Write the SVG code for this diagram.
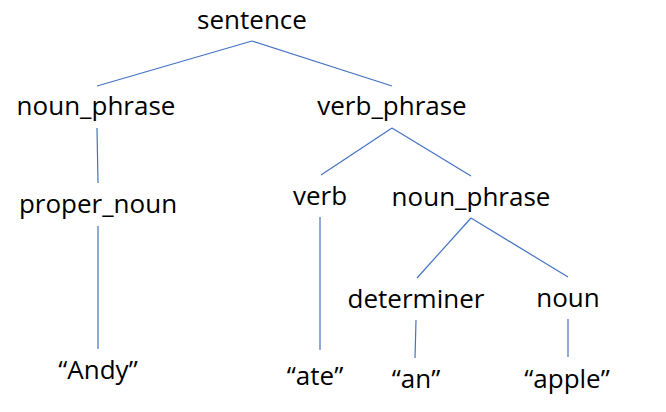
<svg xmlns="http://www.w3.org/2000/svg" width="666" height="412" viewBox="0 0 666 412">
<style>
text{font-family:"Open Sans","Noto Sans","DejaVu Sans",sans-serif;font-size:26px;fill:#000;text-anchor:middle}
.e line{stroke:#4472C4;stroke-width:1.2}
</style>
<rect width="666" height="412" fill="#fff"/>
<g class="e" id="edges">
<line x1="252" y1="41" x2="97" y2="86"/>
<line x1="252" y1="41" x2="392" y2="86"/>
<line x1="97" y1="128" x2="98" y2="183"/>
<line x1="98" y1="226" x2="98" y2="349"/>
<line x1="392" y1="128" x2="321" y2="175"/>
<line x1="392" y1="128" x2="471" y2="176"/>
<line x1="320" y1="217" x2="320" y2="350"/>
<line x1="471" y1="218" x2="417" y2="278"/>
<line x1="471" y1="218" x2="568" y2="277"/>
<line x1="416" y1="320" x2="415" y2="358"/>
<line x1="568" y1="319" x2="568" y2="357"/>
</g>
<g id="n-sentence"><text x="252" y="29">sentence</text></g>
<g id="n-np1"><text x="96" y="115">noun_phrase</text></g>
<g id="n-vp"><text x="392" y="115">verb_phrase</text></g>
<g id="n-pn"><text x="98" y="213">proper_noun</text></g>
<g id="n-verb"><text x="320" y="205">verb</text></g>
<g id="n-np2"><text x="471" y="206">noun_phrase</text></g>
<g id="n-det"><text x="416" y="308">determiner</text></g>
<g id="n-noun"><text x="568" y="307">noun</text></g>
<g id="n-andy"><text x="98" y="379">“Andy”</text></g>
<g id="n-ate"><text x="315" y="385">“ate”</text></g>
<g id="n-an"><text x="416" y="388">“an”</text></g>
<g id="n-apple"><text x="567" y="388">“apple”</text></g>
</svg>
